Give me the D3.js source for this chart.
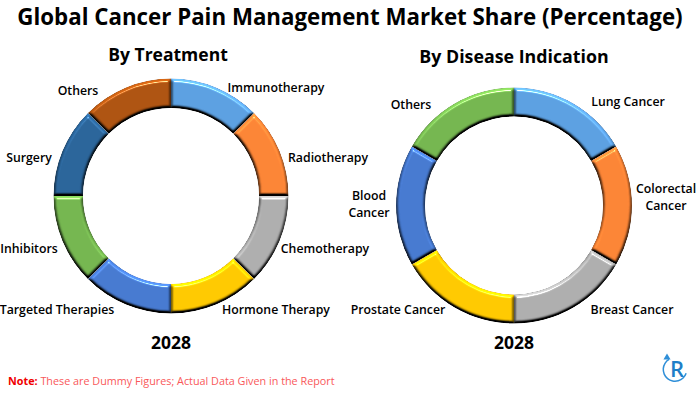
<!DOCTYPE html>
<html><head><meta charset="utf-8">
<script src="https://cdn.jsdelivr.net/npm/d3@7/dist/d3.min.js"></script>
<style>html,body{margin:0;padding:0;background:#fff}svg{display:block}
text{font-family:"Open Sans","Noto Sans",sans-serif}</style></head><body>
<svg id="c" width="700" height="393"></svg>
<script>
const treatmentLabels = ["Immunotherapy","Radiotherapy","Chemotherapy","Hormone Therapy","Targeted Therapies","Inhibitors","Surgery","Others"];
const treatmentValues = [12.5,12.5,12.5,12.5,12.5,12.5,12.5,12.5];
const treatmentColors = ["#5b9fe0","#fb8435","#adadad","#ffc800","#4679cf","#74b54f","#2a6499","#ad5311"];
const treatmentLabelPos = [[276,92],[328,162],[325,253],[276,314],[57,314],[29,253],[29,162],[78,95]];
const diseaseLabels = ["Lung Cancer","Colorectal\nCancer","Breast Cancer","Prostate Cancer","Blood\nCancer","Others"];
const diseaseValues = [16.67,16.67,16.67,16.67,16.67,16.67];
const diseaseColors = ["#5b9fe0","#fb8435","#adadad","#ffc800","#4679cf","#74b54f"];
const diseaseLabelPos = [[628,106],[666,193],[632,314],[398,314],[369,200],[411,109]];

const svg = d3.select("#c");
const defs = svg.append("defs");
const f = defs.append("filter").attr("id","bevel").attr("x","-10%").attr("y","-10%").attr("width","120%").attr("height","120%").attr("color-interpolation-filters","sRGB");
f.append("feGaussianBlur").attr("in","SourceAlpha").attr("stdDeviation",1.5).attr("result","b");
f.append("feDiffuseLighting").attr("in","b").attr("surfaceScale",3.5).attr("diffuseConstant",1).attr("lighting-color","#fff").attr("result","dl")
  .append("feDistantLight").attr("azimuth",270).attr("elevation",50);
f.append("feComposite").attr("in","dl").attr("in2","SourceGraphic").attr("operator","arithmetic").attr("k1",1.305).attr("k2",0).attr("k3",0).attr("k4",0).attr("result","lit");
f.append("feSpecularLighting").attr("in","b").attr("surfaceScale",3.5).attr("specularConstant",.6).attr("specularExponent",70).attr("lighting-color","#fff").attr("result","sp")
  .append("feDistantLight").attr("azimuth",270).attr("elevation",50);
f.append("feComposite").attr("in","sp").attr("in2","SourceAlpha").attr("operator","in").attr("result","spc");
f.append("feComposite").attr("in","lit").attr("in2","spc").attr("operator","arithmetic").attr("k1",0).attr("k2",1).attr("k3",1).attr("k4",0).attr("result","all");
f.append("feComposite").attr("in","all").attr("in2","SourceAlpha").attr("operator","in");

function ring(cx,cy,rO,rI,values,colors){
  const pie = d3.pie().sort(null)(values);
  const arc = d3.arc().innerRadius(rI).outerRadius(rO);
  svg.append("g").attr("transform",`translate(${cx},${cy})`).selectAll("path").data(pie).join("path")
    .attr("d",arc).attr("fill",(d,i)=>colors[i]).attr("filter","url(#bevel)");
}
ring(171,196,117.5,88,treatmentValues,treatmentColors);
ring(514,205.5,118,89,diseaseValues,diseaseColors);

function labels(names,pos){
  names.forEach((n,i)=>{
    const t = svg.append("text").attr("text-anchor","middle").attr("font-size",12.3).attr("font-weight",600).attr("fill","#000")
      .attr("x",pos[i][0]).attr("y",pos[i][1]);
    n.split("\n").forEach((s,j)=>t.append("tspan").attr("x",pos[i][0]).attr("dy",j?17:0).text(s));
  });
}
labels(treatmentLabels,treatmentLabelPos);
labels(diseaseLabels,diseaseLabelPos);

const T=(x,y,s,fs,w,c,a)=>svg.append("text").attr("x",x).attr("y",y).attr("font-size",fs).attr("font-weight",w).attr("fill",c).attr("text-anchor",a||"middle").text(s);
T(350,25,"Global Cancer Pain Management Market Share (Percentage)",22.3,700,"#000");
T(168,61,"By Treatment",17.5,700,"#000");
T(514,63,"By Disease Indication",17.8,700,"#000");
T(171,349,"2028",17.5,700,"#000");
T(514,349,"2028",17.5,700,"#000");
const n = svg.append("text").attr("x",8).attr("y",385).attr("font-size",10.8);
n.append("tspan").attr("font-weight",700).attr("fill","#f00000").text("Note: ");
n.append("tspan").attr("fill","#f9585a").text("These are Dummy Figures; Actual Data Given in the Report");

// logo
const lg = svg.append("g").attr("transform","translate(675,369.5)");
lg.append("path").attr("d",d3.arc()({innerRadius:11,outerRadius:12.5,startAngle:1.9,endAngle:5.75})).attr("fill","#2f8fd8");
lg.append("path").attr("d",d3.symbol(d3.symbolTriangle,22)()).attr("transform","translate(-8,-12)").attr("fill","#2f8fd8");
lg.append("text").attr("x",2).attr("y",7.5).attr("text-anchor","middle").attr("font-size",22).attr("font-weight",600).attr("fill","#1f7fc8").text("R");
</script></body></html>
